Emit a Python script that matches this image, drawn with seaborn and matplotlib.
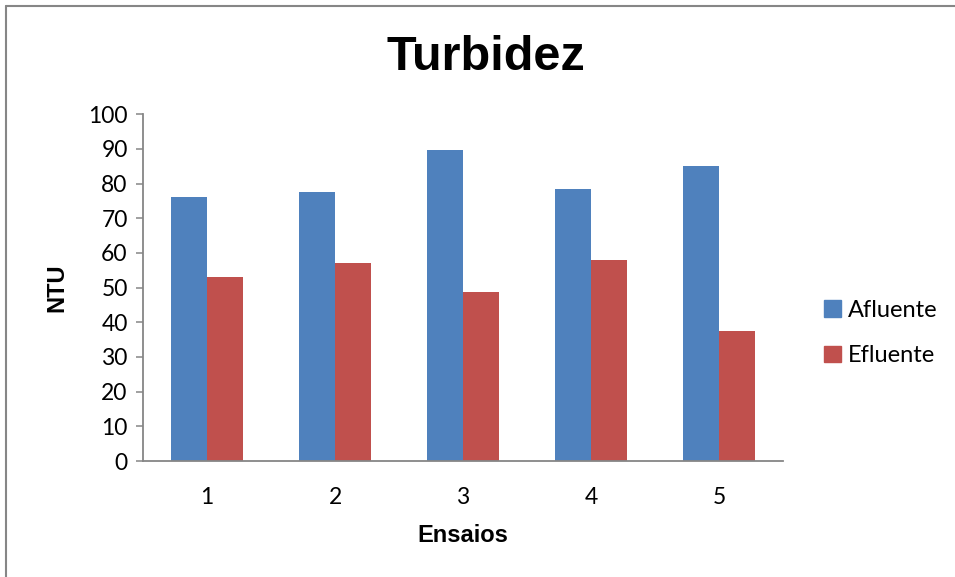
import matplotlib
matplotlib.use("Agg")
import matplotlib.pyplot as plt
from matplotlib.lines import Line2D
import seaborn as sns
import pandas as pd

ensaios = ["1", "2", "3", "4", "5"]
afluente = [76.1, 77.6, 89.7, 78.4, 85.0]
efluente = [53.0, 57.2, 48.8, 58.0, 37.5]
series_names = ["Afluente", "Efluente"]
colors = ["#4F81BD", "#C0504D"]
yticks = [0, 10, 20, 30, 40, 50, 60, 70, 80, 90, 100]

df = pd.DataFrame({
    "Ensaios": ensaios * 2,
    "NTU": afluente + efluente,
    "Serie": [series_names[0]] * len(ensaios) + [series_names[1]] * len(ensaios),
})

sns.set_theme(style="white")
plt.rcParams["font.family"] = ["Lato", "DejaVu Sans"]
plt.rcParams["text.color"] = "black"
plt.rcParams["axes.labelcolor"] = "black"

W, H = 955, 577
fig = plt.figure(figsize=(W / 100, H / 100), dpi=100)
ax = fig.add_axes([143 / W, 1 - 461 / H, (783 - 143) / W, (461 - 114.3) / H])

sns.barplot(data=df, x="Ensaios", y="NTU", hue="Serie", order=ensaios,
            hue_order=series_names, palette=colors, width=0.57,
            saturation=1, linewidth=0, ax=ax, legend=False)

ax.set_ylim(0, 100)
ax.set_xlim(-0.5, len(ensaios) - 0.5)
ax.set_yticks(yticks)
ax.set_yticklabels([str(v) for v in yticks])

grey = "#868686"
for side in ["top", "right"]:
    ax.spines[side].set_visible(False)
for side in ["left", "bottom"]:
    ax.spines[side].set_color(grey)
    ax.spines[side].set_linewidth(1.3)

ax.tick_params(axis="y", direction="out", length=5, width=1.1, color=grey,
               labelsize=16.5, pad=6, left=True, labelcolor="black")
ax.tick_params(axis="x", length=0, labelsize=16.5, pad=19, labelcolor="black")

ax.set_xlabel("Ensaios", fontsize=17, fontweight="bold",
              family="Liberation Sans", labelpad=11, color="black")
ax.set_ylabel("NTU", fontsize=17, fontweight="bold",
              family="Liberation Sans", labelpad=14, color="black")

fig.text(486 / W, 1 - 57 / H, "Turbidez", fontsize=35, fontweight="bold",
         family="Liberation Sans", ha="center", va="center", color="black")

handles = [plt.Rectangle((0, 0), 1, 1, color=c) for c in colors]
fig.legend(handles, series_names, loc="center left",
           bbox_to_anchor=(803 / W, 1 - 333 / H), frameon=False,
           fontsize=17, handlelength=0.7, handleheight=0.7,
           handletextpad=0.3, labelspacing=1.05, labelcolor="black")

# chart frame edges
fig.add_artist(Line2D([6 / W, 1], [1 - 6 / H, 1 - 6 / H], color=grey, lw=1.5,
                      transform=fig.transFigure))
fig.add_artist(Line2D([6 / W, 6 / W], [0, 1 - 6 / H], color=grey, lw=1.5,
                      transform=fig.transFigure))

fig.savefig("out.png", dpi=100)
